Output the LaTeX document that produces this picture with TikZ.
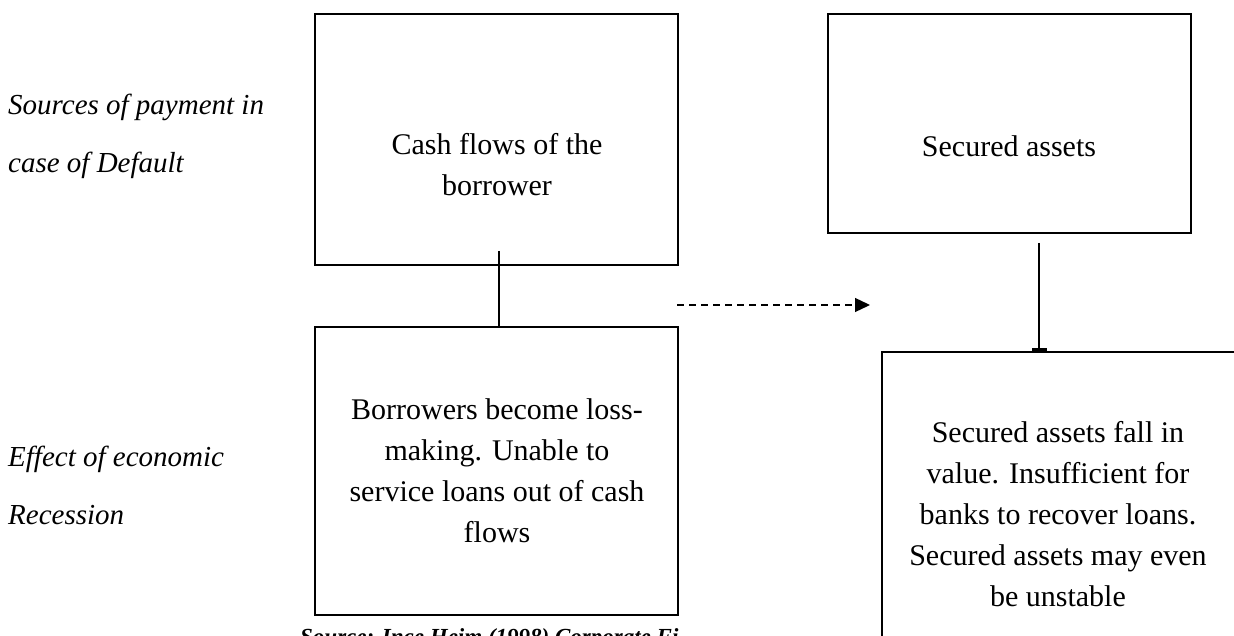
\documentclass[tikz,border=0pt]{standalone}
\usepackage{fontspec}
\setmainfont{Liberation Serif}
\usetikzlibrary{arrows.meta}
\begin{document}
\begin{tikzpicture}[x=1pt,y=-1pt,
  box/.style={draw=black,line width=1.3pt,inner sep=0pt},
  boxtext/.style={align=center,font=\fontsize{30}{41}\selectfont,inner sep=0pt},
  sidetext/.style={align=left,anchor=west,font=\fontsize{29}{58}\selectfont\itshape,inner sep=0pt},
  conn/.style={line width=1.3pt}]
\useasboundingbox (0,0) rectangle (1234,636);
\clip (0,0) rectangle (1234,636);
% boxes
\node[box,minimum width=363pt,minimum height=251pt] (A) at (496.5,139.5) {};
\node[box,minimum width=363pt,minimum height=219pt] (B) at (1009.5,123.5) {};
\node[box,minimum width=363pt,minimum height=288pt] (C) at (496.5,471) {};
\node[box,minimum width=360pt,minimum height=340pt] (D) at (1062,522) {};
% box texts
\node[boxtext] (tA) at (497,165) {Cash flows of the\\borrower};
\node[boxtext] (tB) at (1009,146) {Secured assets};
\node[boxtext] (tC) at (497,471) {Borrowers become loss-\\making. Unable to\\service loans out of cash\\flows};
\node[boxtext] (tD) at (1058,514) {Secured assets fall in\\value. Insufficient for\\banks to recover loans.\\Secured assets may even\\be unstable};
% side labels
\node[sidetext] (s1) at (8,136) {Sources of payment in\\case of Default};
\node[sidetext] (s2) at (8,485) {Effect of economic\\Recession};
% source line (cut by the page edge, as in the reference)
\node[anchor=base west,inner sep=0pt,font=\fontsize{23}{26}\selectfont\bfseries\itshape] (src) at (300,644) {Source: Ince Heim (1998) Corporate Fi};
% connectors
\coordinate (a1) at (499,251);
\draw[conn] (a1) -- (a1 |- C.north);
\coordinate (b1) at (1039,243);
\draw[conn,-{Bar[width=15pt,line width=3pt]}] (b1) -- (b1 |- D.north);
\coordinate (dS) at (677,305);
\coordinate (dE) at (870,305);
\draw[conn,dash pattern=on 7pt off 5pt,-{Triangle[length=15pt,width=14pt]}] (dS) -- (dE);
\end{tikzpicture}
\end{document}
